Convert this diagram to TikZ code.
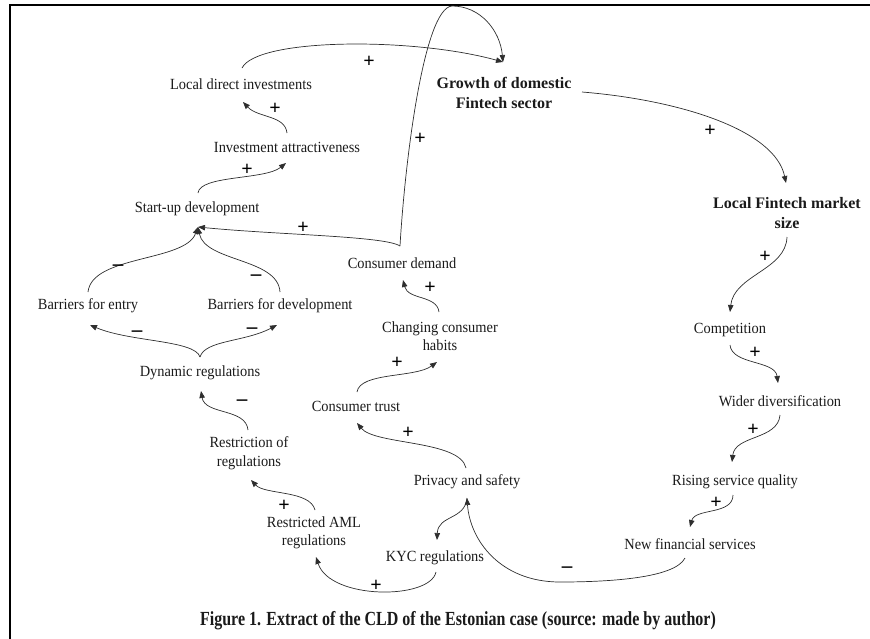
\documentclass[tikz,border=0pt]{standalone}
\usepackage{fontspec}
\setmainfont{Liberation Serif}
\newfontfamily\labelfont{Liberation Serif}[FakeStretch=0.93]
\newfontfamily\capfont{Liberation Serif}[FakeStretch=0.8]
\usepackage{tikz}
\usepackage{xcolor}
\usetikzlibrary{arrows.meta}
\definecolor{CLDInk}{HTML}{1A1A1A}
\definecolor{CLDLine}{HTML}{2E2E2E}

\begin{document}
\begin{tikzpicture}[
    x=1pt,y=-1pt,
    text=CLDInk,
    var/.style={inner sep=1pt,align=center,font=\labelfont\fontsize{15.5}{18.5}\selectfont},
    key/.style={inner sep=1pt,align=center,font=\fontsize{16}{19.5}\selectfont\bfseries},
    caption/.style={inner sep=1pt,font=\capfont\bfseries\fontsize{20}{20}\selectfont},
    sign/.style={inner sep=0pt,text=black,font=\fontsize{20}{20}\selectfont\bfseries},
    neg/.style={sign,font=\fontsize{21}{21}\selectfont\bfseries},
    link/.style={-{Triangle[length=7pt,width=5.5pt]},draw=CLDLine,line width=0.7pt},
    frame/.style={draw=black,line width=1.8pt}
  ]
    \useasboundingbox (0,0) rectangle (870,638);
    \draw[frame] (10,645) |- (880,5);

    % variables
    \node[var] (ldi) at (241,84) {Local direct investments};
    \node[key] (gro) at (504,93) {Growth of domestic\\Fintech sector};
    \node[key] (lfm) at (787,213) {Local Fintech market\\size};
    \node[var] (ia) at (287,147) {Investment attractiveness};
    \node[var] (sud) at (197,209) {Start-up development};
    \node[var] (cd) at (402,263) {Consumer demand};
    \node[var] (bfe) at (88,306) {Barriers for entry};
    \node[var] (bfd) at (280,306) {Barriers for development};
    \node[var] (dr) at (200,373) {Dynamic regulations};
    \node[var] (ror) at (249,453) {Restriction of\\regulations};
    \node[var] (raml) at (314,533) {Restricted AML\\regulations};
    \node[var] (cch) at (440,336) {Changing consumer\\habits};
    \node[var] (ct) at (356,406) {Consumer trust};
    \node[var] (ps) at (467,482) {Privacy and safety};
    \node[var] (kyc) at (435,558) {KYC regulations};
    \node[var] (comp) at (730,330) {Competition};
    \node[var] (wd) at (780,401) {Wider diversification};
    \node[var] (rsq) at (735,482) {Rising service quality};
    \node[var] (nfs) at (690,544) {New financial services};
    \node[caption] (cap) at (458,621) {Figure 1. Extract of the CLD of the Estonian case (source: made by author)};

    % links
    \draw[link] ([shift={(1,-16)}]ldi.center) .. controls (257,38) and (413,37) .. ([shift={(-1,-31)}]gro.center);
    \draw[link] ([shift={(-2,-17)}]cd.center) .. controls (405,160) and (424,8) .. (452,6)
      .. controls (480,6) and (500,30) .. ([shift={(-1,-31)}]gro.center);
    \draw[link] ([shift={(78,-1)}]gro.center) .. controls (680,100) and (775,130) .. ([shift={(-1,-30)}]lfm.center);
    \draw[link] ([shift={(0,-14)}]ia.center) .. controls (285,115) and (258,118) .. ([shift={(2,18)}]ldi.center);
    \draw[link] ([shift={(1,-16)}]sud.center) .. controls (200,175) and (265,180) .. ([shift={(-1,16)}]ia.center);
    \draw[link] ([shift={(-2,-17)}]cd.center) .. controls (385,236) and (280,235) .. ([shift={(1,18)}]sud.center);
    \draw[link] ([shift={(0,-14)}]bfe.center) .. controls (92,255) and (185,262) .. ([shift={(1,18)}]sud.center);
    \draw[link] ([shift={(0,-14)}]bfd.center) .. controls (278,258) and (205,262) .. ([shift={(1,18)}]sud.center);
    \draw[link] ([shift={(0,-16)}]dr.center) .. controls (195,340) and (130,342) .. ([shift={(2,19)}]bfe.center);
    \draw[link] ([shift={(0,-16)}]dr.center) .. controls (205,340) and (245,342) .. ([shift={(-3,19)}]bfd.center);
    \draw[link] ([shift={(-1,-23)}]ror.center) .. controls (246,408) and (205,415) .. ([shift={(1,18)}]dr.center);
    \draw[link] ([shift={(1,-23)}]raml.center) .. controls (310,490) and (265,495) .. ([shift={(2,27)}]ror.center);
    \draw[link] ([shift={(1,14)}]kyc.center) .. controls (430,600) and (330,600) .. ([shift={(2,24)}]raml.center);
    \draw[link] ([shift={(-1,-24)}]cch.center) .. controls (437,295) and (408,300) .. ([shift={(1,17)}]cd.center);
    \draw[link] ([shift={(1,-14)}]ct.center) .. controls (360,372) and (415,378) .. ([shift={(-3,26)}]cch.center);
    \draw[link] ([shift={(-1,-14)}]ps.center) .. controls (460,440) and (375,445) .. ([shift={(1,17)}]ct.center);
    \draw[link] ([shift={(0,16)}]ps.center) .. controls (465,520) and (438,515) .. ([shift={(2,-18)}]kyc.center);
    \draw[link] ([shift={(-5,14)}]nfs.center) .. controls (675,578) and (610,582) .. (560,582)
      .. controls (500,582) and (470,540) .. ([shift={(0,16)}]ps.center);
    \draw[link] ([shift={(0,24)}]lfm.center) .. controls (786,270) and (734,275) .. ([shift={(0,-18)}]comp.center);
    \draw[link] ([shift={(0,15)}]comp.center) .. controls (732,365) and (775,360) .. ([shift={(-2,-18)}]wd.center);
    \draw[link] ([shift={(0,14)}]wd.center) .. controls (778,440) and (735,435) .. ([shift={(-3,-20)}]rsq.center);
    \draw[link] ([shift={(-2,13)}]rsq.center) .. controls (733,515) and (695,508) .. ([shift={(0,-17)}]nfs.center);

    % polarities
    \node[sign] (p1) at (369,62) {+};
    \node[sign] (p2) at (420,139) {+};
    \node[sign] (p3) at (710,131) {+};
    \node[sign] (p4) at (275,109) {+};
    \node[sign] (p5) at (247,170) {+};
    \node[sign] (p6) at (303,228) {+};
    \node[neg] (n1) at (118,268) {–};
    \node[neg] (n2) at (256,278) {–};
    \node[neg] (n3) at (137,334) {–};
    \node[neg] (n4) at (252,331) {–};
    \node[neg] (n5) at (242,403) {–};
    \node[sign] (p7) at (284,506) {+};
    \node[sign] (p8) at (376,586) {+};
    \node[sign] (p9) at (430,288) {+};
    \node[sign] (p10) at (397,363) {+};
    \node[sign] (p11) at (408,433) {+};
    \node[neg] (n6) at (567,570) {–};
    \node[sign] (p12) at (765,257) {+};
    \node[sign] (p13) at (755,353) {+};
    \node[sign] (p14) at (753,430) {+};
    \node[sign] (p15) at (716,503) {+};
\end{tikzpicture}
\end{document}
